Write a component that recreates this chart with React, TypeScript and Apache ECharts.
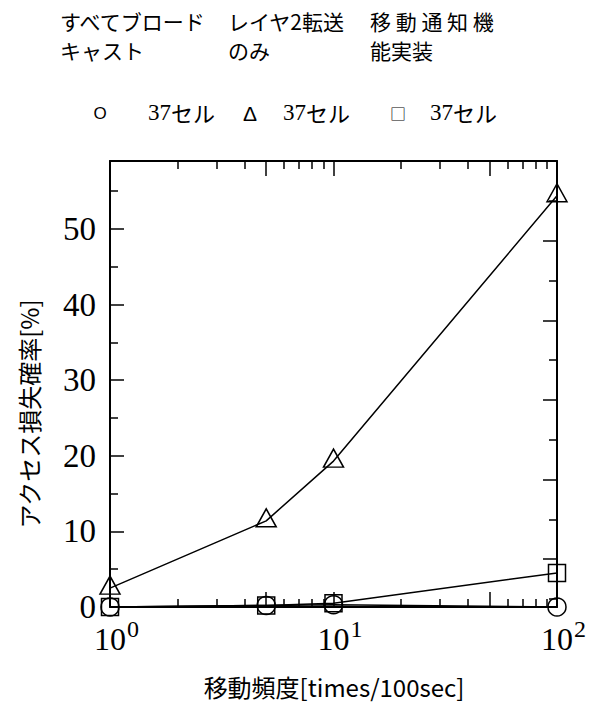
import React, { useEffect, useRef } from "react";
import * as echarts from "echarts";

// ---- data ----
const seriesNames = ["すべてブロードキャスト", "レイヤ2転送のみ", "移動通知機能実装"];
const headerLine1 = ["すべてブロード", "レイヤ2転送", "移 動 通 知 機"];
const headerLine2 = ["キャスト", "のみ", "能実装"];
const legendSymbols = ["O", "Δ", "□"];
const cellLabel = "37セル";
const xValues = [1, 5, 10, 100];
const broadcastLoss = [0, 0.2, 0.3, 0];
const layer2Loss = [2.5, 11.4, 19.3, 54.4];
const notifyLoss = [0, 0.2, 0.5, 4.5];

// ---- ticks ----
const xLabelTicks = [1, 10, 100];
const xMajorTicks = [1, 5, 10, 50, 100];
const xMinorTicks = [2, 3, 4, 6, 7, 8, 9, 20, 30, 40, 60, 70, 80, 90];
const yLabelTicks = [0, 10, 20, 30, 40, 50];
const yMajorTicks = [0, 10, 20, 30, 40, 50];
const yMinorTicks = [5, 15, 25, 35, 45, 55];
const rightMajorTicks = [0, 1, 2, 3, 4, 5];
const rightMinorTicks = [-0.5, 0.5, 1.5, 2.5, 3.5, 4.5];

const SANS = '"Noto Sans CJK JP", "Noto Sans", sans-serif';
const SERIF = '"Liberation Serif", "DejaVu Serif", serif';
const LSANS = '"Liberation Sans", Arial, sans-serif';
const BLACK = "#000";

function pair(ys: number[]) {
  return xValues.map((x, i) => [x, ys[i]]);
}

export default function App() {
  const ref = useRef<HTMLDivElement>(null);
  useEffect(() => {
    document.body.style.margin = "0";
    if (!ref.current) return;
    const chart = echarts.init(ref.current, null, { renderer: "svg" });

    const lineAx = { show: true, onZero: false, lineStyle: { color: BLACK, width: 2 } };
    const noLine = { show: false, onZero: false };
    const xBase = (position: string, ticks: number[], len: number, showLine: boolean, labels: boolean) => ({
      type: "log",
      logBase: 10,
      min: 1,
      max: 100,
      position,
      gridIndex: 0,
      axisLine: showLine ? lineAx : noLine,
      axisTick: { show: true, inside: true, length: len, customValues: ticks, lineStyle: { color: BLACK, width: 1.5 } },
      minorTick: { show: false },
      splitLine: { show: false },
      axisLabel: labels
        ? {
            show: true,
            customValues: xLabelTicks,
            margin: 10,
            formatter: (v: number) => `{sp|}{b|10}{s|${Math.round(Math.log10(v))}}`,
            rich: {
              sp: { width: 13, fontSize: 32, fontFamily: SERIF, verticalAlign: "bottom" },
              b: { fontSize: 32, fontFamily: SERIF, color: BLACK, verticalAlign: "bottom" },
              s: { fontSize: 24, fontFamily: SERIF, color: BLACK, padding: [0, 0, 14, 1], verticalAlign: "bottom" },
            },
          }
        : { show: false },
    });
    const yBase = (position: string, min: number, max: number, ticks: number[], len: number, showLine: boolean, labels: boolean) => ({
      type: "value",
      min,
      max,
      position,
      axisLine: showLine ? lineAx : noLine,
      axisTick: { show: true, inside: true, length: len, customValues: ticks, lineStyle: { color: BLACK, width: 1.5 } },
      splitLine: { show: false },
      axisLabel: labels
        ? { show: true, customValues: yLabelTicks, margin: 14, fontSize: 33, fontFamily: SERIF, color: BLACK }
        : { show: false },
    });

    const markerStyle = { color: "rgba(0,0,0,0)", borderColor: BLACK, borderWidth: 1.5 };
    const mkSeries = (name: string, ys: number[], symbol: string, size: any, offset: number[]) => ({
      name,
      type: "line",
      xAxisIndex: 0,
      yAxisIndex: 0,
      data: pair(ys),
      symbol,
      symbolSize: size,
      symbolOffset: offset,
      showSymbol: true,
      lineStyle: { color: BLACK, width: 1.5 },
      itemStyle: markerStyle,
      emphasis: { disabled: true },
    });

    const headerX = [60, 228, 370];
    const legendSymX = [100, 250, 398];
    const legendTextX = [148, 283, 430];
    const symSize = [17, 21, 16];
    const symFamily = [LSANS, LSANS, SANS];

    const graphic: any[] = [];
    headerLine1.forEach((t, i) => {
      graphic.push({
        type: "text",
        x: headerX[i],
        y: 21,
        style: { text: t, fontSize: 21, fontFamily: SANS, lineHeight: 22, fill: BLACK, verticalAlign: "middle" },
      });
      graphic.push({
        type: "text",
        x: headerX[i],
        y: 50,
        style: { text: headerLine2[i], fontSize: 21, fontFamily: SANS, lineHeight: 22, fill: BLACK, verticalAlign: "middle" },
      });
      graphic.push({
        type: "text",
        x: legendSymX[i],
        y: 113,
        style: {
          text: legendSymbols[i],
          fontSize: symSize[i],
          fontFamily: symFamily[i],
          fill: BLACK,
          align: "center",
          verticalAlign: "middle",
        },
      });
      graphic.push({
        type: "text",
        x: legendTextX[i],
        y: 112,
        style: {
          text: `{n|${cellLabel.slice(0, 2)}}{j|${cellLabel.slice(2)}}`,
          verticalAlign: "middle",
          rich: {
            n: { fontSize: 23, fontFamily: SERIF, fill: BLACK },
            j: { fontSize: 22, fontFamily: SANS, fill: BLACK },
          },
        },
      });
    });
    graphic.push({
      type: "text",
      x: 28,
      y: 414,
      rotation: Math.PI / 2,
      style: { text: "アクセス損失確率[%]", fontSize: 24, fontFamily: SANS, fill: BLACK, align: "center", verticalAlign: "middle" },
    });
    graphic.push({
      type: "text",
      x: 334,
      y: 686,
      style: { text: "移動頻度[times/100sec]", fontSize: 24, fontFamily: SANS, lineHeight: 26, fill: BLACK, align: "center", verticalAlign: "middle" },
    });

    chart.setOption({
      animation: false,
      backgroundColor: "#fff",
      grid: { left: 110, right: 41, top: 161, bottom: 95 },
      xAxis: [
        xBase("bottom", xMajorTicks, 15, true, true),
        xBase("bottom", xMinorTicks, 8, false, false),
        xBase("top", xMajorTicks, 15, true, false),
        xBase("top", xMinorTicks, 8, false, false),
      ],
      yAxis: [
        yBase("left", 0, 59, yMajorTicks, 14, true, true),
        yBase("left", 0, 59, yMinorTicks, 8, false, false),
        yBase("right", -0.6, 5, rightMajorTicks, 14, true, false),
        yBase("right", -0.6, 5, rightMinorTicks, 8, false, false),
      ],
      series: [
        mkSeries(seriesNames[0], broadcastLoss, "circle", 18, [0, 0]),
        mkSeries(seriesNames[1], layer2Loss, "triangle", [20, 18], [0, -3]),
        mkSeries(seriesNames[2], notifyLoss, "rect", 17, [0, 0]),
      ],
      graphic,
    });
    return () => chart.dispose();
  }, []);
  return <div ref={ref} style={{ width: 598, height: 702 }} />;
}
